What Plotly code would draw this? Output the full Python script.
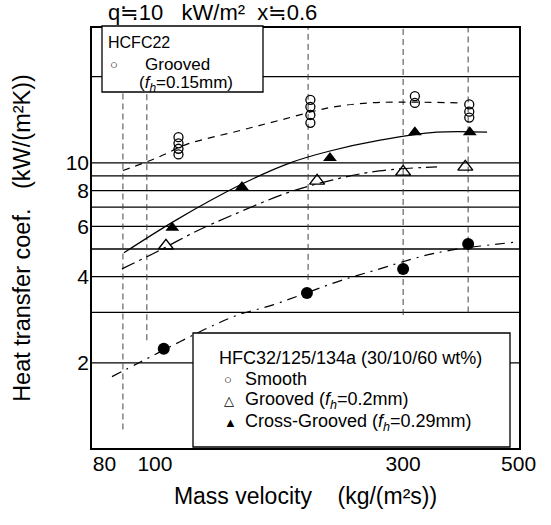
import plotly.graph_objects as go
import math

# ---------------- data ----------------
# HCFC22, grooved tube (open circles, several runs per mass velocity)
hcfc22_G = [111, 111, 111, 111, 199, 199, 199, 199, 316, 316, 402, 402, 402]
hcfc22_h = [12.3, 11.7, 11.2, 10.7, 16.6, 15.7, 14.7, 13.8, 17.1, 16.2, 16.0, 15.1, 14.4]

# HFC32/125/134a
smooth_G = [104, 196, 300, 400]
smooth_h = [2.24, 3.51, 4.26, 5.21]
grooved_G = [105, 205, 300, 395]
grooved_h = [5.13, 8.65, 9.30, 9.68]
cross_G = [108, 147, 217, 316, 403]
cross_h = [5.93, 8.24, 10.4, 12.8, 12.8]

# hand-drawn trend curves
hcfc22_fit_G = [86.8, 102, 115, 144, 174, 217, 259, 300, 390]
hcfc22_fit_h = [9.4, 10.5, 11.6, 12.9, 14.1, 15.6, 16.2, 16.3, 16.2]
cross_fit_G = [87.2, 110, 146, 182, 217, 271, 348, 435]
cross_fit_h = [4.85, 6.32, 8.38, 10.0, 11.0, 12.0, 12.8, 12.8]
grooved_fit_G = [86.4, 100.9, 120.4, 141.3, 179.4, 219.9, 270, 348.5]
grooved_fit_h = [4.26, 4.89, 5.78, 6.58, 7.85, 8.72, 9.38, 9.68]
smooth_fit_G = [82.7, 93.6, 111.7, 127.6, 144.4, 168.7, 226.9, 262.4, 348.5, 496.6]
smooth_fit_h = [1.79, 2.01, 2.37, 2.67, 2.94, 3.19, 3.87, 4.19, 4.85, 5.29]

# reference lines of the original figure
grid_h = [2, 3, 4, 5, 6, 7, 8, 9, 10, 20]
guide_G = [86.8, 96.5, 197, 300, 400]
guide_h_low = [1.17, 2.4, 3.9, 2.94, 3.0]

# axis ticks
x_ticks = [80, 100, 300, 500]
y_ticks = [2, 4, 6, 8, 10]
x_range = [75.7, 501]
y_range = [1.008, 29.6]

# ---------------- layout constants ----------------
W, H = 551, 525
ML, MT = 92, 28
PW, PH = 427, 420
MR = W - ML - PW
MB = H - MT - PH
FONT = "Liberation Sans, Arial, DejaVu Sans, sans-serif"


def fx(px):
    return (px - ML) / PW


def fy(py):
    return (MT + PH - py) / PH


fig = go.Figure()

line_w = 1.2
fig.add_trace(go.Scatter(x=hcfc22_fit_G, y=hcfc22_fit_h, mode="lines",
                         line=dict(color="black", width=line_w, dash="7px,6px", shape="spline"),
                         showlegend=False, hoverinfo="skip"))
fig.add_trace(go.Scatter(x=cross_fit_G, y=cross_fit_h, mode="lines",
                         line=dict(color="black", width=line_w, shape="spline"),
                         showlegend=False, hoverinfo="skip"))
fig.add_trace(go.Scatter(x=grooved_fit_G, y=grooved_fit_h, mode="lines",
                         line=dict(color="black", width=line_w, dash="14px,5px,3px,5px", shape="spline"),
                         showlegend=False, hoverinfo="skip"))
fig.add_trace(go.Scatter(x=smooth_fit_G, y=smooth_fit_h, mode="lines",
                         line=dict(color="black", width=line_w, dash="10px,6px,2px,6px", shape="spline"),
                         showlegend=False, hoverinfo="skip"))

fig.add_trace(go.Scatter(x=hcfc22_G, y=hcfc22_h, mode="markers", name="HCFC22 Grooved",
                         marker=dict(symbol="circle-open", size=9, color="black", line=dict(width=1.3)),
                         showlegend=False))
fig.add_trace(go.Scatter(x=smooth_G, y=smooth_h, mode="markers", name="Smooth",
                         marker=dict(symbol="circle", size=12, color="black"), showlegend=False))
fig.add_trace(go.Scatter(x=grooved_G, y=grooved_h, mode="markers", name="Grooved",
                         marker=dict(symbol="triangle-up-open", size=13, color="black", line=dict(width=1.4)),
                         showlegend=False))
fig.add_trace(go.Scatter(x=cross_G, y=cross_h, mode="markers", name="Cross-Grooved",
                         marker=dict(symbol="triangle-up", size=12, color="black"), showlegend=False))

shapes = []
for h in grid_h:
    shapes.append(dict(type="line", xref="x domain", yref="y", x0=0, x1=1, y0=h, y1=h,
                       line=dict(color="black", width=1.3), layer="below"))
for g, lo in zip(guide_G, guide_h_low):
    shapes.append(dict(type="line", xref="x", yref="y", x0=g, x1=g, y0=lo, y1=y_range[1],
                       line=dict(color="#444", width=1, dash="6px,4px"), layer="below"))
# legend boxes
shapes.append(dict(type="rect", xref="paper", yref="paper", x0=fx(102), x1=fx(263), y0=fy(92), y1=fy(26),
                   fillcolor="white", line=dict(color="black", width=1.3), layer="above"))
shapes.append(dict(type="rect", xref="paper", yref="paper", x0=fx(193), x1=fx(510), y0=fy(447), y1=fy(333),
                   fillcolor="white", line=dict(color="black", width=1.3), layer="above"))

ann = []


def note(text, x, y, size=17, xanchor="left"):
    ann.append(dict(text=text, xref="paper", yref="paper", x=fx(x), y=fy(y), xanchor=xanchor,
                    yanchor="middle", showarrow=False, font=dict(family=FONT, size=size, color="black")))


nb = "\u00a0"
fh = "(<i>f<sub>h</sub></i>"
note("q≒10" + nb * 3 + "kW/m²" + nb * 2 + "x≒0.6", 106, 13, size=22)
note("HCFC22", 106, 43, size=16)
note("○", 108, 64, size=13)
note("Grooved", 143, 64, size=17)
note(fh + "=0.15mm)", 137, 84, size=17)
note("HFC32/125/134a (30/10/60 wt%)", 217, 358, size=18)
note("○", 222, 379, size=13)
note("Smooth", 243, 379, size=18)
note("△", 222, 400, size=13)
note("Grooved " + fh + "=0.2mm)", 243, 400, size=18)
note("▲", 222, 422, size=13)
note("Cross-Grooved " + fh + "=0.29mm)", 243, 422, size=18)

fig.update_layout(
    width=W, height=H,
    margin=dict(l=ML, r=MR, t=MT, b=MB, autoexpand=False),
    paper_bgcolor="white", plot_bgcolor="white",
    font=dict(family=FONT, color="black"),
    shapes=shapes, annotations=ann, showlegend=False,
)
fig.update_xaxes(type="log", range=[math.log10(x_range[0]), math.log10(x_range[1])],
                 tickvals=x_ticks, ticktext=[str(v) for v in x_ticks], ticks="",
                 showgrid=False, zeroline=False, showline=True, mirror=True, automargin=False,
                 linecolor="black", linewidth=1.5, tickfont=dict(size=21), ticklabelstandoff=-4,
                 title=dict(text="Mass velocity" + nb * 4 + "(kg/(m²s))", font=dict(size=23), standoff=14))
fig.update_yaxes(type="log", range=[math.log10(y_range[0]), math.log10(y_range[1])],
                 tickvals=y_ticks, ticktext=[str(v) for v in y_ticks], ticks="",
                 showgrid=False, zeroline=False, showline=True, mirror=True, automargin=False,
                 linecolor="black", linewidth=1.5, tickfont=dict(size=21), ticklabelstandoff=-3,
                 title=dict(text="Heat transfer coef." + nb * 3 + "(kW/(m²K))" + nb * 2,
                            font=dict(size=23.5), standoff=28))

fig.write_html("out.html", config={"displayModeBar": False},
               post_script="document.body.style.margin='0';")
